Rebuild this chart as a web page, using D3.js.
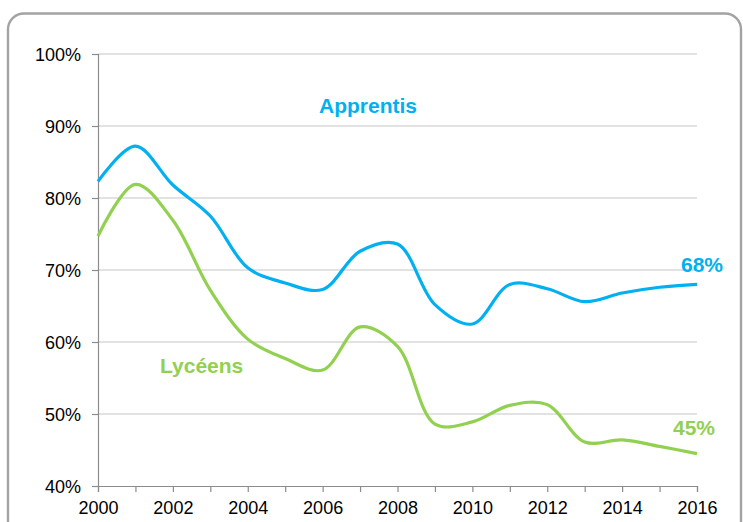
<!DOCTYPE html>
<html>
<head>
<meta charset="utf-8">
<script src="https://cdn.jsdelivr.net/npm/d3@7"></script>
<style>
  body { margin: 0; background: #fff; }
  svg { display: block; font-family: Arial, "Liberation Sans", sans-serif; }
</style>
</head>
<body>
<svg id="chart" width="743" height="522"></svg>
<script>
const years = [2000, 2001, 2002, 2003, 2004, 2005, 2006, 2007, 2008, 2009, 2010, 2011, 2012, 2013, 2014, 2015, 2016];
const apprentis = [82.3, 87.2, 81.8, 77.5, 70.3, 68.2, 67.3, 72.6, 73.6, 65.2, 62.5, 68.0, 67.4, 65.6, 66.8, 67.6, 68.0];
const lyceens = [74.7, 81.9, 76.9, 67.2, 60.4, 57.7, 56.1, 62.1, 59.4, 48.6, 48.9, 51.2, 51.3, 46.1, 46.4, 45.5, 44.5];
const yTicks = [40, 50, 60, 70, 80, 90, 100];
const xTicks = [2000, 2002, 2004, 2006, 2008, 2010, 2012, 2014, 2016];

const svg = d3.select('#chart');
const width = +svg.attr('width');
const height = +svg.attr('height');

// cadre arrondi
svg.append('rect')
  .attr('x', 8).attr('y', 13.5)
  .attr('width', 733).attr('height', 530)
  .attr('rx', 16)
  .attr('fill', 'none')
  .attr('stroke', '#a3a3a3')
  .attr('stroke-width', 2.4);

const margin = {left: 98, right: 46, top: 54, bottom: 36};
const x = d3.scaleLinear().domain([2000, 2016]).range([margin.left, width - margin.right]);
const y = d3.scaleLinear().domain([40, 100]).range([height - margin.bottom, margin.top]);

// grille
svg.append('g').selectAll('line').data(yTicks.filter(d => d > 40))
  .enter().append('line')
    .attr('x1', x(2000)).attr('x2', x(2016))
    .attr('y1', d => y(d)).attr('y2', d => y(d))
    .attr('stroke', '#d9d9d9').attr('stroke-width', 1.3);

const yAxis = svg.append('g')
  .attr('transform', `translate(${x(2000)},0)`)
  .call(d3.axisLeft(y).tickValues(yTicks).tickSize(6).tickPadding(11).tickFormat(d => d + '%'));

const xAxis = svg.append('g')
  .attr('transform', `translate(0,${y(40)})`)
  .call(d3.axisBottom(x).tickValues(years).tickSize(6).tickPadding(5)
    .tickFormat(d => xTicks.includes(d) ? d : ''));

[yAxis, xAxis].forEach(a => {
  a.select('.domain').attr('stroke', '#8c8c8c').attr('stroke-width', 1.2);
  a.selectAll('.tick line').attr('stroke', '#8c8c8c').attr('stroke-width', 1.2);
  a.selectAll('.tick text').attr('fill', '#000').attr('font-size', 18)
    .attr('font-family', 'Arial, "Liberation Sans", sans-serif');
});
yAxis.selectAll('.tick text').attr('dy', '0.36em');
xAxis.selectAll('.tick text').attr('dy', '0.95em');

const line = d3.line()
  .x((d, i) => x(years[i]))
  .y(d => y(d))
  .curve(d3.curveCatmullRom.alpha(0.5));

svg.append('path').datum(lyceens)
  .attr('d', line)
  .attr('fill', 'none')
  .attr('stroke', '#92d050')
  .attr('stroke-width', 3.2);

svg.append('path').datum(apprentis)
  .attr('d', line)
  .attr('fill', 'none')
  .attr('stroke', '#00b0f0')
  .attr('stroke-width', 3.2);

// étiquettes
svg.append('text').attr('x', 368).attr('y', 113)
  .attr('text-anchor', 'middle').attr('font-weight', 'bold').attr('font-size', 21)
  .attr('fill', '#00b0f0').text('Apprentis');
svg.append('text').attr('x', 160).attr('y', 373)
  .attr('font-weight', 'bold').attr('font-size', 21)
  .attr('fill', '#92d050').text('Lycéens');
svg.append('text').attr('x', 723).attr('y', 272)
  .attr('text-anchor', 'end').attr('font-weight', 'bold').attr('font-size', 21)
  .attr('fill', '#00b0f0').text(apprentis[apprentis.length - 1].toFixed(0) + '%');
svg.append('text').attr('x', 715).attr('y', 435)
  .attr('text-anchor', 'end').attr('font-weight', 'bold').attr('font-size', 21)
  .attr('fill', '#92d050').text(Math.round(lyceens[lyceens.length - 1]) + '%');
</script>
</body>
</html>
